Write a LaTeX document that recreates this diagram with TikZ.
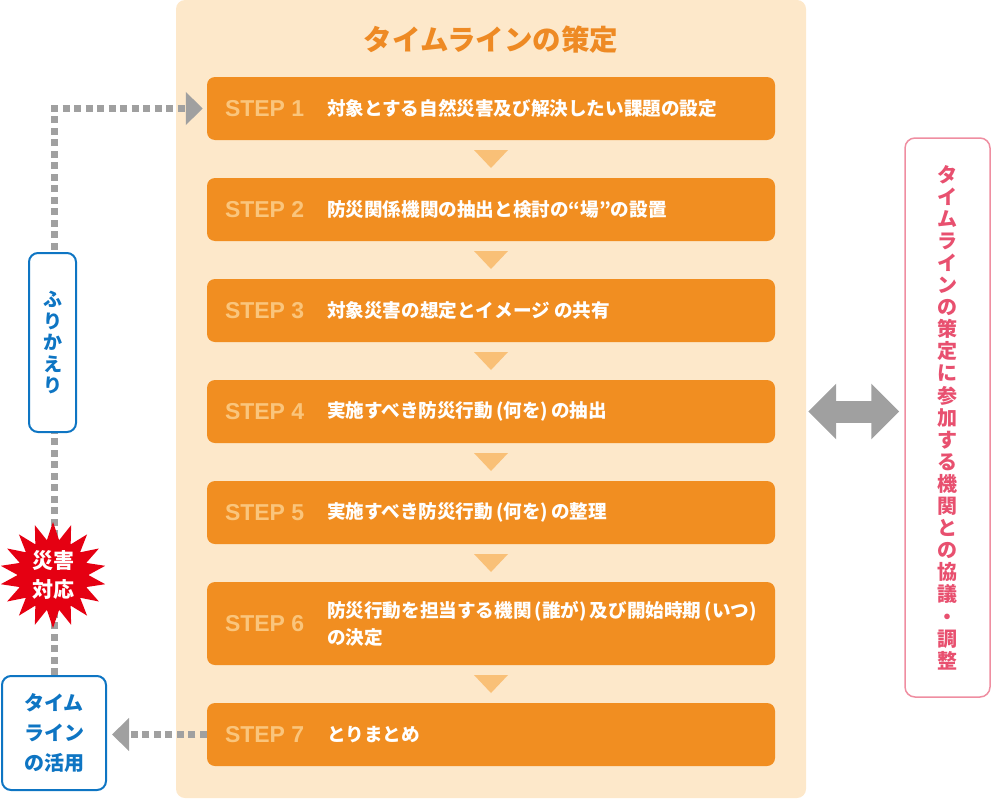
\documentclass[tikz,border=0pt]{standalone}
\usepackage{fontspec}
\setmainfont{Noto Sans CJK JP}
\newfontfamily\stepfont{Liberation Sans}
\usetikzlibrary{arrows.meta,calc,shapes.geometric}

\definecolor{panelbg}{HTML}{FDE8CA}
\definecolor{steporange}{HTML}{F18E21}
\definecolor{steplight}{HTML}{FAC57C}
\definecolor{trilight}{HTML}{F9C077}
\definecolor{titleorange}{HTML}{EE8A24}
\definecolor{blueline}{HTML}{0E75C3}
\definecolor{burstred}{HTML}{E50012}
\definecolor{pinkline}{HTML}{EF8EA1}
\definecolor{pinktext}{HTML}{E8506F}
\definecolor{dotgray}{HTML}{A0A0A0}

\tikzset{
  stepbox/.style={rectangle, rounded corners=8pt, fill=steporange, minimum width=568pt, minimum height=63pt, inner sep=0pt},
  steplabel/.style={anchor=west, text=steplight, inner sep=0pt, font=\stepfont\bfseries\fontsize{23}{23}\selectfont},
  stepdesc/.style={anchor=west, text=white, align=left, inner sep=0pt, font=\bfseries\fontsize{18.6}{27}\selectfont},
  downtri/.style={fill=trilight},
  dotline/.style={dotgray, line width=7pt, dash pattern=on 7pt off 4.5pt, -{Triangle[length=17pt,width=32pt]}},
  bluebox/.style={rectangle, rounded corners=9pt, draw=blueline, line width=2pt, fill=white, text=blueline, align=center, inner sep=0pt},
}

\begin{document}
\begin{tikzpicture}[x=1pt,y=-1pt]
    \useasboundingbox (0,0) rectangle (992,800);
    % panel
    \node[rectangle, rounded corners=9pt, fill=panelbg, minimum width=630pt, minimum height=798pt] (panel) at (491,399) {};
    \node[text=titleorange, font=\bfseries\fontsize{28.5}{28.5}\selectfont] (title) at (491,40) {タイムラインの策定};
    % steps
    \node[stepbox] (s1) at (491,108.5) {};
    \node[stepbox] (s2) at (491,209.5) {};
    \node[stepbox] (s3) at (491,310.5) {};
    \node[stepbox] (s4) at (491,411.5) {};
    \node[stepbox] (s5) at (491,512.5) {};
    \node[stepbox, minimum height=83pt] (s6) at (491,623.5) {};
    \node[stepbox] (s7) at (491,734.5) {};
    \node[steplabel] (l1) at ([xshift=18pt]s1.west) {STEP 1};
    \node[steplabel] (l2) at ([xshift=18pt]s2.west) {STEP 2};
    \node[steplabel] (l3) at ([xshift=18pt]s3.west) {STEP 3};
    \node[steplabel] (l4) at ([xshift=18pt]s4.west) {STEP 4};
    \node[steplabel] (l5) at ([xshift=18pt]s5.west) {STEP 5};
    \node[steplabel] (l6) at ([xshift=18pt]s6.west) {STEP 6};
    \node[steplabel] (l7) at ([xshift=18pt]s7.west) {STEP 7};
    \node[stepdesc] (d1) at ([xshift=120pt]s1.west) {対象とする自然災害及び解決したい課題の設定};
    \node[stepdesc] (d2) at ([xshift=120pt]s2.west) {防災関係機関の抽出と検討の“場”の設置};
    \node[stepdesc] (d3) at ([xshift=120pt]s3.west) {対象災害の想定とイメージ の共有};
    \node[stepdesc] (d4) at ([xshift=120pt]s4.west) {実施すべき防災行動\,(何を)\,の抽出};
    \node[stepdesc] (d5) at ([xshift=120pt]s5.west) {実施すべき防災行動\,(何を)\,の整理};
    \node[stepdesc] (d6) at ([xshift=120pt]s6.west) {防災行動を担当する機関\,(誰が)\,及び開始時期\,(いつ)\\の決定};
    \node[stepdesc] (d7) at ([xshift=120pt]s7.west) {とりまとめ};
    \foreach \a/\b in {s1/s2,s2/s3,s3/s4,s4/s5,s5/s6,s6/s7}
        \fill[downtri] ($(\a.south)!0.5!(\b.north)+(-17,-9)$) -- ++(34,0) -- ++(-17,18) -- cycle;
    % left side
    \node[bluebox, minimum width=104pt, minimum height=114pt, font=\bfseries\fontsize{20}{30}\selectfont] (use) at (54,733) {タイム\\ライン\\の活用};
    \draw[dotline, shorten >=4pt] (use.north) -- (use.north |- s1.west) -- (s1.west);
    \draw[dotline, shorten >=5pt] (s7.west) -- (s7.west -| use.east);
    \node[bluebox, minimum width=47pt, minimum height=179pt, font=\bfseries\fontsize{19}{21.5}\selectfont] (review) at (52.5,342.5) {ふ\\り\\か\\え\\り};
    \node[star, star points=18, star point ratio=1.5, fill=burstred, text=white, minimum size=106pt, inner sep=0pt, align=center, font=\bfseries\fontsize{21}{29}\selectfont] (burst) at (53,575) {災害\\対応};
    % right side
    \node[rectangle, rounded corners=10pt, draw=pinkline, line width=1.5pt, fill=white, text=pinktext, minimum width=85pt, minimum height=559pt, inner sep=0pt, align=center, font=\bfseries\fontsize{20}{22.1}\selectfont] (talk) at (947.5,417.5)
        {タ\\イ\\ム\\ラ\\イ\\ン\\の\\策\\定\\に\\参\\加\\す\\る\\機\\関\\と\\の\\協\\議\\・\\調\\整};
    \draw[dotgray, line width=22pt, {Triangle[length=28pt,width=54pt]}-{Triangle[length=28pt,width=54pt]}, shorten <=2pt, shorten >=5pt] (panel.east |- s4.east) -- (talk.west |- s4.east);
\end{tikzpicture}
\end{document}
